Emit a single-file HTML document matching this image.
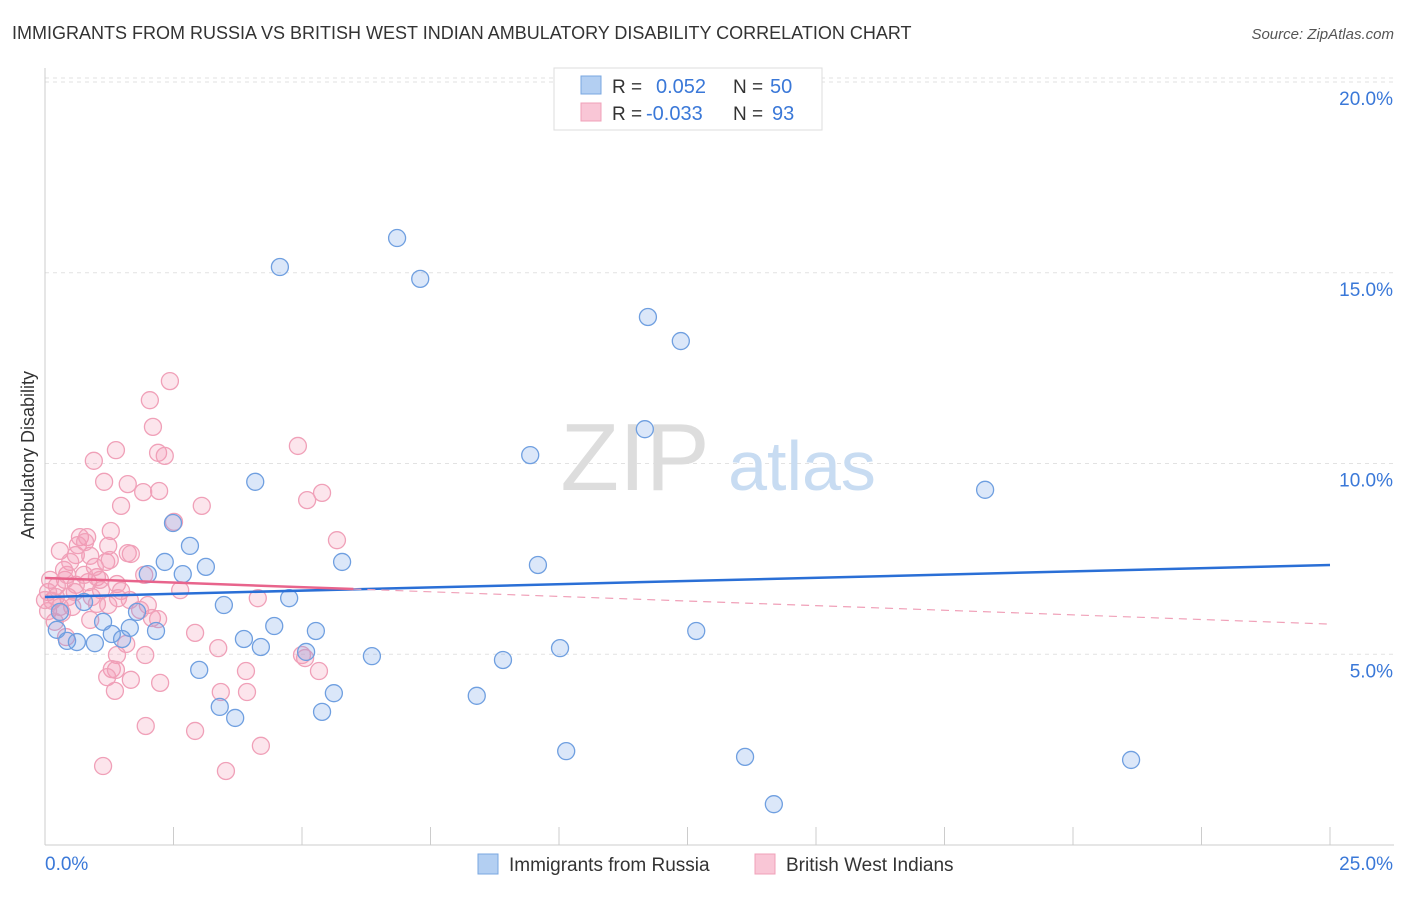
<!DOCTYPE html>
<html><head><meta charset="utf-8">
<style>
body{margin:0;background:#fff;font-family:"Liberation Sans",sans-serif;}
svg text{font-family:"Liberation Sans",sans-serif;}
</style></head>
<body>
<svg id="chart" width="1406" height="892">
<text x="12" y="39" font-size="18" fill="#333">IMMIGRANTS FROM RUSSIA VS BRITISH WEST INDIAN AMBULATORY DISABILITY CORRELATION CHART</text>
<text x="1394" y="39" font-size="15" fill="#555" font-style="italic" text-anchor="end">Source: ZipAtlas.com</text>
<text transform="translate(34,455) rotate(-90)" font-size="18" fill="#333" text-anchor="middle">Ambulatory Disability</text>
<g id="grid"></g>
<g id="ticks"></g>
<g>
<text x="635" y="490" font-size="96" fill="#ddd" font-family="Liberation Serif" text-anchor="middle">ZIP</text>
<text x="802" y="490" font-size="70" fill="#c8dcf2" text-anchor="middle">atlas</text>
</g>
<g id="pts"></g>
<g id="trend"></g>
<g>
<rect x="554" y="68" width="268" height="62" fill="#fff" stroke="#ddd"/>
<rect x="581" y="76" width="20" height="18" fill="#b3cff2" stroke="#7aa7e0"/>
<rect x="581" y="103" width="20" height="18" fill="#f9c6d6" stroke="#f0a0b8"/>
<text x="612" y="93" font-size="19" fill="#333">R = </text><text x="656" y="93" font-size="20" fill="#3a78d8">0.052</text>
<text x="733" y="93" font-size="19" fill="#333">N = </text><text x="770" y="93" font-size="20" fill="#3a78d8">50</text>
<text x="612" y="120" font-size="19" fill="#333">R = </text><text x="646" y="120" font-size="20" fill="#3a78d8">-0.033</text>
<text x="733" y="120" font-size="19" fill="#333">N = </text><text x="772" y="120" font-size="20" fill="#3a78d8">93</text>
</g>
<g>
<rect x="478" y="854" width="20" height="20" fill="#b3cff2" stroke="#7aa7e0"/>
<text x="509" y="871" font-size="19" fill="#333">Immigrants from Russia</text>
<rect x="755" y="854" width="20" height="20" fill="#f9c6d6" stroke="#f0a0b8"/>
<text x="786" y="871" font-size="19" fill="#333">British West Indians</text>
</g>
</svg>
<script>
const xTicks=[0,2.5,5,7.5,10,12.5,15,17.5,20,22.5,25];
const yTicks=[5,10,15,20];
const yTickLabels=["5.0%","10.0%","15.0%","20.0%"];
const russiaX=[6.85,4.57,7.30,11.73,12.37,11.67,9.44,4.09,18.29,2.49,2.82,5.78,9.59,3.13,2.33,2.00,2.68,3.48,4.75,1.79,1.13,1.65,2.16,4.46,5.27,12.67,1.30,1.50,3.87,4.20,5.08,6.36,10.02,8.91,3.00,0.43,0.62,0.97,0.23,5.62,8.40,3.40,3.70,5.39,10.14,13.62,21.13,14.18,0.76,0.29];
const russiaY=[15.91,15.15,14.84,13.84,13.21,10.90,10.22,9.52,9.31,8.44,7.84,7.42,7.34,7.29,7.42,7.10,7.10,6.29,6.47,6.11,5.85,5.69,5.61,5.74,5.61,5.61,5.53,5.40,5.40,5.19,5.06,4.95,5.16,4.85,4.59,5.35,5.32,5.29,5.64,3.98,3.91,3.62,3.33,3.49,2.46,2.31,2.23,1.07,6.37,6.11];
const bwiX=[2.43,2.04,2.10,4.92,1.38,2.20,2.33,0.95,1.15,1.61,2.22,1.91,5.39,5.10,3.05,1.48,2.51,1.28,0.68,0.82,0.64,5.68,1.23,0.29,1.61,0.60,0.88,1.67,0.49,1.19,1.93,0.10,0.39,1.01,0.84,1.40,0.23,0.60,1.09,0.06,1.48,0.21,0.45,0.91,0.14,2.00,0.29,0.53,1.01,4.14,0.06,1.23,2.08,2.20,0.41,2.92,1.58,3.37,1.40,1.95,5.00,5.06,5.33,3.91,1.30,1.38,1.21,1.67,2.24,3.42,1.36,3.93,1.96,2.92,4.20,1.13,3.52,0.00,0.78,0.43,1.07,0.58,0.33,0.19,1.42,1.85,2.63,0.88,1.65,0.37,0.97,1.26,0.76];
const bwiY=[12.16,11.66,10.96,10.46,10.35,10.28,10.20,10.07,9.52,9.46,9.28,9.25,9.23,9.04,8.89,8.89,8.47,8.23,8.07,8.07,7.86,7.99,7.84,7.71,7.65,7.60,7.58,7.63,7.42,7.42,7.08,6.95,6.95,7.02,6.89,6.84,6.79,6.82,6.68,6.63,6.66,6.50,6.50,6.50,6.40,6.29,6.24,6.24,6.32,6.47,6.13,6.29,5.95,5.92,5.45,5.56,5.27,5.16,4.98,4.98,4.98,4.90,4.56,4.56,4.61,4.59,4.40,4.33,4.25,4.01,4.04,4.01,3.12,2.99,2.60,2.07,1.94,6.42,7.94,7.08,6.95,6.63,6.08,5.85,6.47,6.16,6.68,5.90,6.42,7.21,7.29,7.47,7.08];
const russiaTrend=[6.50,7.34];
const bwiTrend=[7.00,5.79];
const bwiSolidEnd=6.0;
const X=v=>45+v*51.4, Y=v=>845-v*38.15;
const NS="http://www.w3.org/2000/svg";
function mk(tag,attrs,parent){const e=document.createElementNS(NS,tag);for(const k in attrs)e.setAttribute(k,attrs[k]);parent.appendChild(e);return e;}
const grid=document.getElementById('grid'),ticks=document.getElementById('ticks'),pts=document.getElementById('pts'),trend=document.getElementById('trend');
mk('line',{x1:45,y1:68,x2:45,y2:845,stroke:'#ccc'},ticks);
mk('line',{x1:45,y1:845,x2:1394,y2:845,stroke:'#ccc'},ticks);
mk('line',{x1:45,y1:78,x2:1394,y2:78,stroke:'#e2e2e2','stroke-dasharray':'4,4'},grid);
yTicks.forEach((t,i)=>{
  const l=mk('line',{x1:45,y1:Y(t),x2:1394,y2:Y(t),stroke:'#e2e2e2','stroke-dasharray':'4,4'},grid);
  
  
  const tx=mk('text',{x:1393,y:Y(t)+23,'font-size':19,fill:'#3a78d8','text-anchor':'end'},ticks);
  tx.textContent=yTickLabels[i];
  
  
});
xTicks.forEach(t=>{
  const l=mk('line',{x1:X(t),y1:827,x2:X(t),y2:845,stroke:'#ccc'},ticks);
  
  
});
const xl=mk('text',{x:45,y:870,'font-size':19,fill:'#3a78d8'},ticks);xl.textContent='0.0%';


const xr=mk('text',{x:1393,y:870,'font-size':19,fill:'#3a78d8','text-anchor':'end'},ticks);xr.textContent='25.0%';


bwiX.forEach((v,i)=>{
  const c=mk('circle',{cx:X(v),cy:Y(bwiY[i]),r:8.5,fill:'rgba(244,150,180,0.25)',stroke:'#f0a0b8','stroke-width':1.3},pts);
  
  
});
russiaX.forEach((v,i)=>{
  const c=mk('circle',{cx:X(v),cy:Y(russiaY[i]),r:8.5,fill:'rgba(110,160,230,0.25)',stroke:'#6f9fe0','stroke-width':1.3},pts);
  
  
});
const rt=mk('line',{x1:X(0),y1:Y(russiaTrend[0]),x2:X(25),y2:Y(russiaTrend[1]),stroke:'#2a6fd6','stroke-width':2.5},trend);


const bMid=bwiTrend[0]+(bwiTrend[1]-bwiTrend[0])*bwiSolidEnd/25;
const bt=mk('line',{x1:X(0),y1:Y(bwiTrend[0]),x2:X(bwiSolidEnd),y2:Y(bMid),stroke:'#e8648c','stroke-width':2.5},trend);


const bd=mk('line',{x1:X(bwiSolidEnd),y1:Y(bMid),x2:X(25),y2:Y(bwiTrend[1]),stroke:'#f0a0b8','stroke-width':1.2,'stroke-dasharray':'8,6'},trend);


</script>
</body></html>
